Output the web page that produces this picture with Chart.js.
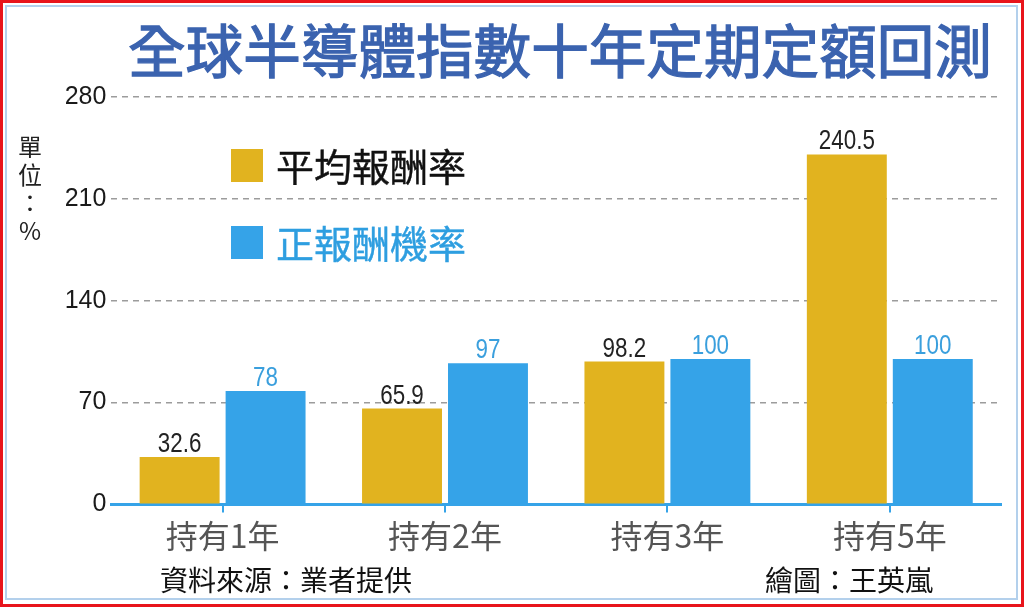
<!DOCTYPE html>
<html>
<head>
<meta charset="utf-8">
<script src="https://cdn.jsdelivr.net/npm/chart.js@4/dist/chart.umd.min.js"></script>
<style>
  html,body{margin:0;padding:0;background:#fff;}
  #wrap{position:relative;width:1024px;height:607px;overflow:hidden;font-family:"Noto Sans CJK TC","Noto Sans",sans-serif;}
  #frame{position:absolute;left:0;top:0;width:1018px;height:601px;border:3px solid #e8141b;}
  #frame2{position:absolute;left:5px;top:5px;width:1009px;height:591px;border:2px solid #b3d0ec;}
  #c{position:absolute;left:0;top:0;}
  .txt{position:absolute;white-space:nowrap;}
  #title{left:128px;top:13px;font-size:57.6px;font-weight:400;-webkit-text-stroke:1.3px #3b63af;color:#3b63af;line-height:70px;}
  #unit{left:17px;top:132px;font-size:24px;color:#222;line-height:28px;text-align:center;width:26px;}
  .lg{position:absolute;left:231px;display:flex;align-items:center;font-size:38px;line-height:40px;-webkit-text-stroke:0.4px currentColor;}
  .lg span.box{display:inline-block;width:32px;height:33px;margin-right:13px;}
  #src{left:160px;top:562px;font-size:28px;line-height:34px;color:#111;}
  #by{left:765px;top:562px;font-size:28px;line-height:34px;color:#111;}
</style>
</head>
<body>
<div id="wrap">
  <div id="frame"></div>
  <div id="frame2"></div>
  <canvas id="c" width="1024" height="607"></canvas>
  <div class="txt" id="title">全球半導體指數十年定期定額回測</div>
  <div class="txt" id="unit">單<br>位<br>：<br>%</div>
  <div id="legend"></div>
  <div class="txt" id="src">資料來源：業者提供</div>
  <div class="txt" id="by">繪圖：王英嵐</div>
</div>
<script>
// data
var categories = ["持有1年","持有2年","持有3年","持有5年"];
var avgReturn = [32.6, 65.9, 98.2, 240.5];     // 平均報酬率
var posProb = [78, 97, 100, 100];               // 正報酬機率
var yTicks = [0, 70, 140, 210, 280];

const GOLD = "#e1b31f";
const BLUE = "#35a3e8";

// value labels above the bars
const valueLabels = {
  id: "valueLabels",
  afterDatasetsDraw(chart){
    const ctx = chart.ctx;
    chart.data.datasets.forEach(function(ds, di){
      const meta = chart.getDatasetMeta(di);
      meta.data.forEach(function(bar, i){
        ctx.save();
        ctx.font = "28px 'Liberation Sans', Arial, sans-serif";
        ctx.fillStyle = di == 0 ? "#222" : "#3a9fdd";
        ctx.textAlign = "center";
        ctx.textBaseline = "alphabetic";
        ctx.translate(bar.x, bar.y - 5);
        ctx.scale(0.8, 1);
        ctx.fillText(String(ds.data[i]), 0, 0);
        ctx.restore();
      });
    });
  }
};

const chart = new Chart(document.getElementById("c"), {
  type: "bar",
  data: {
    labels: categories,
    datasets: [
      {label: "平均報酬率", data: avgReturn, backgroundColor: GOLD, textColor: "#111"},
      {label: "正報酬機率", data: posProb, backgroundColor: BLUE, textColor: "#2e9ee0"}
    ]
  },
  options: {
    responsive: false,
    animation: false,
    events: [],
    devicePixelRatio: 1,
    layout: {padding: {top: 97, right: 23, left: 0, bottom: 0}},
    datasets: {bar: {categoryPercentage: 0.773, barPercentage: 0.93}},
    plugins: {legend: {display: false}, tooltip: {enabled: false}, title: {display: false}},
    scales: {
      x: {
        afterFit: function(s){ s.height = 102.6; },
        grid: {offset: false, drawOnChartArea: false, drawTicks: true, tickLength: 8, color: BLUE, lineWidth: 2},
        border: {display: true, color: BLUE, width: 3},
        ticks: {color: "#555", padding: 4, font: {family: "'Noto Sans CJK TC', sans-serif", size: 32}}
      },
      y: {
        min: 0, max: 280,
        afterFit: function(s){ s.width = 111.4; },
        afterBuildTicks: function(s){ s.ticks = yTicks.map(function(v){ return {value: v}; }); },
        grid: {
          drawTicks: false,
          lineWidth: 1.6,
          color: function(c){ return c.tick && c.tick.value === 0 ? "rgba(0,0,0,0)" : "#9c9c9c"; }
        },
        border: {display: false, dash: [6, 5]},
        ticks: {color: "#1a1a1a", padding: 5, font: {family: "'Liberation Sans', Arial, sans-serif", size: 25}}
      }
    }
  },
  plugins: [valueLabels]
});

// legend built from the datasets
const lg = document.getElementById("legend");
const lgTop = [148, 225];
chart.data.datasets.forEach(function(ds, i){
  const d = document.createElement("div");
  d.className = "lg";
  d.style.top = (lgTop[i] - 3) + "px";
  d.style.color = ds.textColor;
  d.innerHTML = '<span class="box" style="background:' + ds.backgroundColor + '"></span>' + ds.label;
  lg.appendChild(d);
});
</script>
</body>
</html>
